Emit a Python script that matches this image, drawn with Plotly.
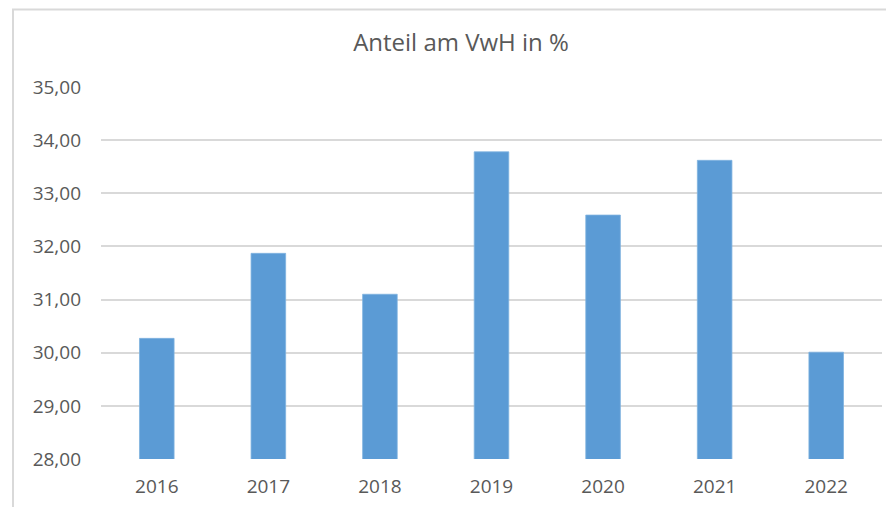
import plotly.graph_objects as go

years = ["2016", "2017", "2018", "2019", "2020", "2021", "2022"]
anteil = [30.27, 31.87, 31.10, 33.78, 32.59, 33.62, 30.01]
y_ticks = [28, 29, 30, 31, 32, 33, 34, 35]
y_tick_labels = ["28,00", "29,00", "30,00", "31,00", "32,00", "33,00", "34,00", "35,00"]

FONT = "Open Sans"
TEXT = "#595959"
GRID = "#D9D9D9"

fig = go.Figure(
    go.Bar(
        x=years,
        y=anteil,
        marker=dict(color="#5B9BD5", line=dict(color="#7FB2E0", width=0.8)),
        hoverinfo="x+y",
    )
)

# page body has an 8px default margin, so the figure is sized to fill the rest
fig.update_layout(
    width=886,
    height=499,
    margin=dict(l=93, r=12, t=79, b=48),
    paper_bgcolor="white",
    plot_bgcolor="white",
    bargap=0.69,
    showlegend=False,
    title=dict(
        text="Anteil am VwH in %",
        x=0.5113,
        xanchor="center",
        y=0.93,
        yanchor="middle",
        font=dict(family=FONT, size=24, color=TEXT),
    ),
    font=dict(family=FONT, size=19, color=TEXT),
    shapes=[
        dict(
            type="rect",
            xref="paper",
            yref="paper",
            x0=-0.1127,
            x1=1.3,
            y0=-0.5,
            y1=1.2085,
            line=dict(color=GRID, width=2),
            fillcolor="rgba(0,0,0,0)",
            layer="below",
        )
    ],
)

fig.update_xaxes(
    type="category",
    automargin=False,
    showgrid=False,
    showline=False,
    ticks="",
    ticklabelstandoff=14,
    tickfont=dict(family=FONT, size=19, color=TEXT),
)
fig.update_yaxes(
    range=[28, 35],
    automargin=False,
    tickvals=y_ticks,
    ticktext=y_tick_labels,
    showgrid=True,
    gridcolor=GRID,
    gridwidth=1.5,
    zeroline=False,
    showline=False,
    ticks="",
    ticklabelstandoff=19,
    tickfont=dict(family=FONT, size=19, color=TEXT),
)

fig.write_html("out.html")
